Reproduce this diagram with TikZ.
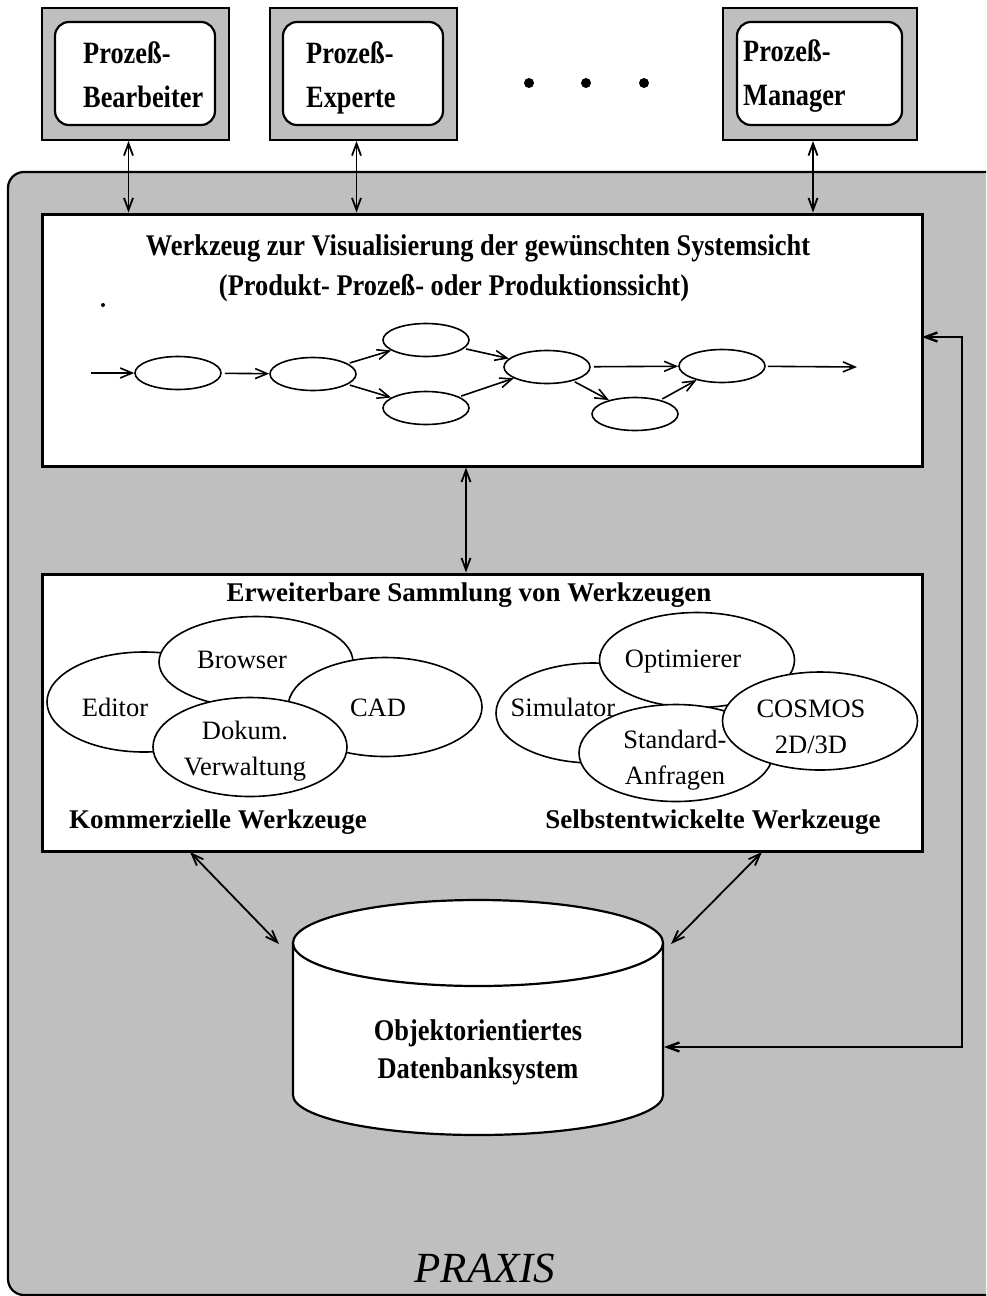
\documentclass[tikz,border=0pt]{standalone}
\usepackage{fontspec}
\setmainfont{Liberation Serif}
\newfontfamily\condfont[FakeStretch=0.88]{Liberation Serif}
\newfontfamily\usrfont[FakeStretch=0.85]{Liberation Serif}
\usetikzlibrary{shapes.geometric,arrows.meta}
\definecolor{screen}{gray}{0.75}

% fixed first-line height and last-line depth for the user labels
\newcommand{\toprl}{\rule{0pt}{22pt}}
\newcommand{\botrl}{\rule[-8pt]{0pt}{8pt}}

\tikzset{
  envbox/.style={draw, line width=2.2pt, fill=screen, rounded corners=16pt},
  userout/.style={draw, line width=2pt, fill=screen, minimum width=187pt, minimum height=132pt, inner sep=0pt},
  userin/.style={draw, line width=2.2pt, fill=white, rounded corners=14pt, minimum width=160pt, minimum height=103pt, inner sep=0pt},
  usertext/.style={anchor=west, align=left, inner sep=0pt, font=\usrfont\bfseries\fontsize{31}{44}\selectfont},
  dotmark/.style={circle, fill=black, minimum size=10pt, inner sep=0pt},
  panel/.style={draw, line width=3pt, fill=white, minimum width=880pt, inner sep=0pt},
  headline/.style={inner sep=0pt, font=\condfont\bfseries\fontsize{30}{36}\selectfont},
  subhead/.style={inner sep=0pt, font=\bfseries\fontsize{27}{30}\selectfont},
  proc/.style={ellipse, draw, line width=1.6pt, fill=white, minimum width=86pt, minimum height=33pt, inner sep=0pt},
  tool/.style={ellipse, draw, line width=1.6pt, fill=white, inner sep=0pt},
  tooltext/.style={inner sep=0pt, align=center, font=\fontsize{26.5}{36}\selectfont},
  garr/.style={line width=1.6pt, -{Straight Barb[length=12pt,width=10pt]}},
  darr/.style={line width=1.8pt, {Straight Barb[length=12pt,width=9pt]}-{Straight Barb[length=12pt,width=9pt]}},
  fbarr/.style={line width=2.4pt, {Straight Barb[length=12pt,width=9pt]}-{Straight Barb[length=12pt,width=9pt]}},
}

\begin{document}
\begin{tikzpicture}[x=1pt, y=-1pt]
\useasboundingbox (0,0) rectangle (986,1296);
\clip (0,0) rectangle (986,1296);

% surrounding system area
\draw[envbox] (8,172) rectangle (1012,1295);

% users
\node[userout] (ub1) at (135.5,74) {};
\node[userin]  (ui1) at (135,73.5) {};
\node[usertext] (ut1) at (83,78) {\toprl Prozeß-\\Bearbeiter\botrl};

\node[userout] (ub2) at (363.5,74) {};
\node[userin]  (ui2) at (363,73.5) {};
\node[usertext] (ut2) at (306,78) {\toprl Prozeß-\\Experte\botrl};

\node[userout, minimum width=194pt] (ub3) at (820,74) {};
\node[userin, minimum width=165pt] (ui3) at (819.5,73.5) {};
\node[usertext] (ut3) at (743,76) {\toprl Prozeß-\\Manager\botrl};

\node[dotmark] (d1) at (529,83) {};
\node[dotmark] (d2) at (586,83) {};
\node[dotmark] (d3) at (644,83) {};

% visualisation tool
\node[panel, minimum height=252pt] (vis) at (482,340) {};
\node[headline] (vt1) at (478,248) {Werkzeug zur Visualisierung der gewünschten Systemsicht};
\node[headline] (vt2) at (454,288) {(Produkt- Prozeß- oder Produktionssicht)};
\fill (103,305) circle (2pt);

\node[proc] (p1) at (178,373) {};
\node[proc] (p2) at (313,374) {};
\node[proc] (p3) at (426,340) {};
\node[proc] (p4) at (426,408) {};
\node[proc] (p5) at (547,367) {};
\node[proc] (p6) at (635,414) {};
\node[proc] (p7) at (722,366) {};
\coordinate (pin) at (91,373);
\coordinate (pout) at (857,367);

\draw[garr] (pin) -- (p1);
\draw[garr, shorten <=3pt] (p1) -- (p2);
\draw[garr, shorten <=2pt] (p2) -- (p3);
\draw[garr, shorten <=2pt] (p2) -- (p4);
\draw[garr, shorten <=2pt] (p3) -- (p5);
\draw[garr, shorten <=2pt] (p4) -- (p5);
\draw[garr, shorten <=3pt] (p5) -- (p7);
\draw[garr, shorten <=2pt] (p5) -- (p6);
\draw[garr, shorten <=2pt] (p6) -- (p7);
\draw[garr, shorten <=2pt] (p7) -- (pout);

% tool collection
\node[panel, minimum height=277pt] (tools) at (482,712.5) {};
\node[subhead] (tt) at (469,595) {Erweiterbare Sammlung von Werkzeugen};

\node[tool, minimum width=194pt, minimum height=100pt] (e1) at (144,702) {};
\node[tool, minimum width=194pt, minimum height=91pt]  (e2) at (256,662) {};
\node[tool, minimum width=194pt, minimum height=99pt]  (e3) at (385,707) {};
\node[tool, minimum width=194pt, minimum height=99pt]  (e4) at (250,747) {};

\node[tool, minimum width=194pt, minimum height=100pt] (s1) at (593,713) {};
\node[tool, minimum width=195pt, minimum height=95pt]  (s2) at (697,660) {};
\node[tool, minimum width=194pt, minimum height=97pt]  (s3) at (676,753) {};
\node[tool, minimum width=195pt, minimum height=98pt]  (s4) at (820,721) {};

\node[tooltext] (et1) at (115,707) {Editor};
\node[tooltext] (et2) at (242,660) {Browser};
\node[tooltext] (et3) at (378,708) {CAD};
\node[tooltext] (et4) at (245,751) {Dokum.\\Verwaltung};

\node[tooltext] (st1) at (563,707) {Simulator};
\node[tooltext] (st2) at (683,662) {Optimierer};
\node[tooltext] (st3) at (675,760) {Standard-\\Anfragen};
\node[tooltext] (st4) at (811,727) {COSMOS\\2D/3D};

\node[subhead] (kw) at (218,822) {Kommerzielle Werkzeuge};
\node[subhead] (sw) at (713,822) {Selbstentwickelte Werkzeuge};

% object-oriented database
\draw[line width=2.2pt, fill=white] (293,943) -- (293,1095)
  arc[start angle=180, end angle=0, x radius=185, y radius=40] -- (663,943);
\draw[line width=2.2pt, fill=white] (478,943) ellipse [x radius=185, y radius=43];
\node[headline, align=center, font=\condfont\bfseries\fontsize{30}{38}\selectfont] (db) at (478,1052) {Objektorientiertes\\Datenbanksystem};

\coordinate (dbtl) at (279,944);
\coordinate (dbtr) at (671,944);
\coordinate (dbr) at (664,1047);
\coordinate (tl) at (190,852);
\coordinate (tr) at (762,852);
\coordinate (visr) at (922,337);
\coordinate (fbc) at (962,1047);

% connectors
\draw[darr] ([xshift=-7pt]ub1.south) -- ([xshift=-7pt]ub1.south |- vis.north);
\draw[darr] ([xshift=-7pt]ub2.south) -- ([xshift=-7pt]ub2.south |- vis.north);
\draw[darr] ([xshift=-7pt]ub3.south) -- ([xshift=-7pt]ub3.south |- vis.north);
\draw[darr] ([xshift=-16pt]vis.south) -- ([xshift=-16pt]tools.north);
\draw[darr] (tl) -- (dbtl);
\draw[darr] (tr) -- (dbtr);
\draw[fbarr] (visr) -| (fbc) -- (dbr);

\node[inner sep=0pt, font=\itshape\fontsize{43}{50}\selectfont] (praxis) at (485,1268) {PRAXIS};
\end{tikzpicture}
\end{document}
